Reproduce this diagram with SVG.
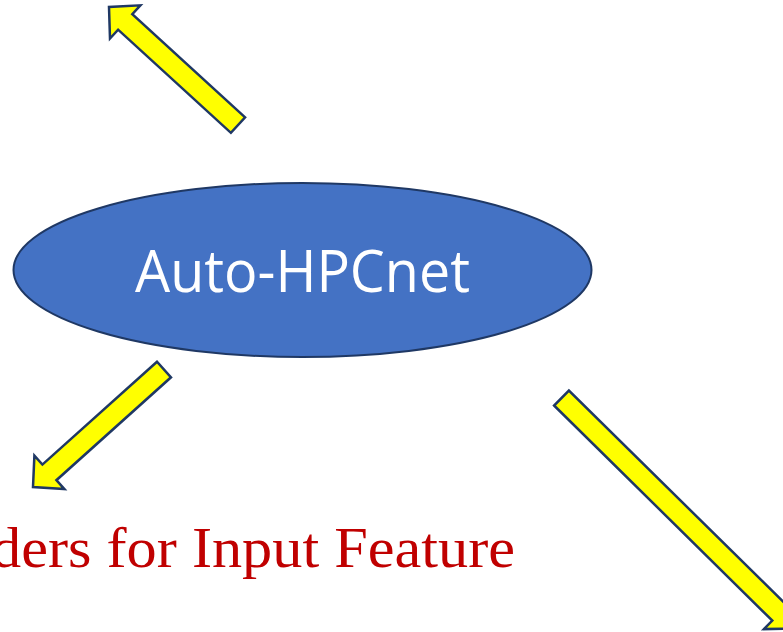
<svg xmlns="http://www.w3.org/2000/svg" width="783" height="632" viewBox="0 0 783 632">
<style>
.arrow{fill:#FFFF00;stroke:#1F3864;stroke-width:2.5;stroke-linejoin:miter}
.node{fill:#4472C4;stroke:#1F3864;stroke-width:2}
.title{font-family:"Open Sans","Noto Sans",sans-serif;font-size:58px;fill:#FFFFFF}
.label{font-family:"Liberation Serif","Times New Roman",serif;font-size:56px;fill:#C00000}
</style>
<rect width="783" height="632" fill="#FFFFFF"/>
<g id="connectors">
<polygon class="arrow" points="245.1,117.3 132.3,14.2 140.4,5.3 109,7 110,38.5 118.1,29.7 230.9,132.8"/>
<polygon class="arrow" points="157,361.7 42.4,464.6 34.4,455.7 33,487 64.4,489.1 56.4,480.2 171,377.3"/>
<polygon class="arrow" points="554.1,405.5 772.3,620.6 763.9,629.1 795.3,628.5 795.5,597.1 787.1,605.6 568.9,390.5"/>
</g>
<g id="node-autohpcnet">
<ellipse class="node" cx="302.5" cy="270" rx="289" ry="87"/>
<text class="title" x="302.5" y="292" text-anchor="middle" textLength="335" lengthAdjust="spacingAndGlyphs">Auto-HPCnet</text>
</g>
<g id="label-input">
<text class="label" x="-9" y="567" textLength="524" lengthAdjust="spacingAndGlyphs">ders for Input Feature</text>
</g>
</svg>
